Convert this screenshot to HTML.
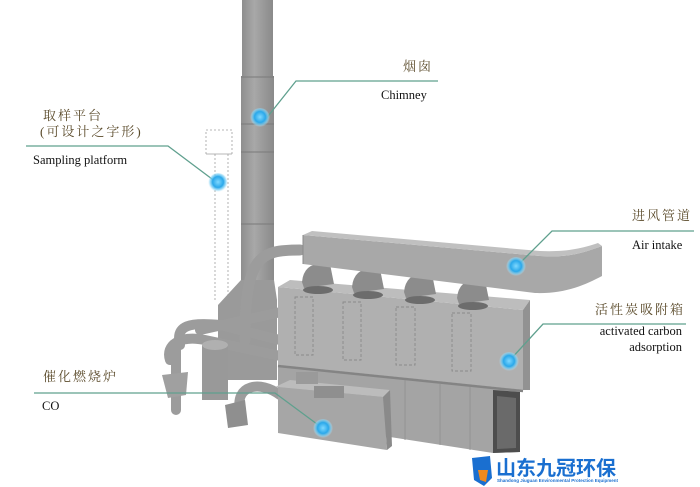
<!DOCTYPE html>
<html><head><meta charset="utf-8"><style>
html,body{margin:0;padding:0;background:#fff;width:700px;height:487px;overflow:hidden}
svg{display:block}
.cn{font-family:"Liberation Serif","Noto Serif CJK SC",serif;font-size:13px;fill:#5a4a2a;letter-spacing:2px}
.en{font-family:"Liberation Serif",serif;font-size:12.5px;fill:#111}
.ln{stroke:#5fa08e;stroke-width:1.3;fill:none}
</style></head><body>
<svg width="700" height="487" viewBox="0 0 700 487" xmlns="http://www.w3.org/2000/svg">
<defs>
<radialGradient id="dot" cx="50%" cy="45%" r="50%">
<stop offset="0" stop-color="#7fd8ff"/><stop offset="0.55" stop-color="#2aa8ea"/><stop offset="0.8" stop-color="#7cd0f5" stop-opacity="0.7"/><stop offset="1" stop-color="#bfe9fb" stop-opacity="0"/>
</radialGradient>
<linearGradient id="chim" x1="0" x2="1"><stop offset="0" stop-color="#8e8e8e"/><stop offset="0.4" stop-color="#a8a8a8"/><stop offset="1" stop-color="#8a8a8a"/></linearGradient>
</defs>
<!-- ladder / platform -->
<g stroke="#a0a0a0" stroke-width="0.8" stroke-dasharray="2,2" fill="none">
<rect x="206" y="130" width="26" height="24"/>
<line x1="215" y1="154" x2="215" y2="300"/><line x1="228" y1="154" x2="228" y2="300"/>
<line x1="206" y1="154" x2="232" y2="154"/>
</g>
<!-- chimney -->
<rect x="242" y="0" width="31" height="80" fill="url(#chim)"/>
<rect x="241" y="76" width="33" height="220" fill="url(#chim)"/>
<g stroke="#7a7a7a" stroke-width="1"><line x1="241" y1="77" x2="274" y2="77"/><line x1="241" y1="124" x2="274" y2="124"/><line x1="241" y1="152" x2="274" y2="152"/><line x1="241" y1="224" x2="274" y2="224"/></g>
<polygon points="241,280 274,280 277,300 277,380 218,380 218,305" fill="#9a9a9a"/>
<!-- left pipes -->
<g fill="none" stroke="#9c9c9c" stroke-linecap="round">
<path d="M245,340 C245,255 260,250 300,250" stroke-width="11"/>
<path d="M200,330 L290,310" stroke-width="10"/>
<path d="M180,345 C175,325 190,322 220,325 L300,345" stroke-width="10"/>
<path d="M170,360 C165,345 180,335 205,340 L290,358 C300,360 305,365 305,380" stroke-width="10"/>
<path d="M176,350 L176,410" stroke-width="10"/>
<path d="M240,410 C235,385 260,380 280,395" stroke-width="10"/>
</g>
<rect x="202" y="345" width="26" height="55" fill="#999"/>
<ellipse cx="215" cy="345" rx="13" ry="5" fill="#b0b0b0"/>
<polygon points="162,375 188,372 186,395 168,398" fill="#a0a0a0"/>
<polygon points="225,405 245,400 248,425 228,428" fill="#8f8f8f"/>
<!-- main box -->
<polygon points="278,287 523,310 523,390 278,365" fill="#b0b0b0"/>
<polygon points="278,365 520,390 520,452 493,453 390,437 278,420" fill="#a4a4a4"/>
<polygon points="278,287 290,280 530,300 523,310" fill="#bdbdbd"/>
<polygon points="523,310 530,300 530,390 523,390" fill="#929292"/>
<polygon points="493,390 520,392 520,452 493,453" fill="#4d4d4d"/>
<polygon points="497,396 516,398 516,448 497,449" fill="#6a6a6a"/>
<line x1="278" y1="366" x2="523" y2="391" stroke="#848484" stroke-width="2.5"/>
<g fill="none" stroke="#8a8a8a" stroke-width="0.9" stroke-dasharray="3,2">
<rect x="295" y="297" width="18" height="58"/><rect x="343" y="302" width="18" height="58"/><rect x="396" y="307" width="19" height="58"/><rect x="452" y="313" width="19" height="58"/>
</g>
<g stroke="#8f8f8f" stroke-width="0.8"><line x1="405" y1="380" x2="405" y2="440"/><line x1="440" y1="384" x2="440" y2="445"/><line x1="470" y1="387" x2="470" y2="450"/></g>
<!-- elbows -->
<g fill="#8c8c8c">
<path d="M302,282 q2,-22 28,-18 l4,20 -30,4z"/><path d="M352,287 q2,-22 28,-18 l4,20 -30,4z"/><path d="M404,292 q2,-22 28,-18 l4,20 -30,4z"/><path d="M457,298 q2,-22 28,-18 l4,20 -30,4z"/>
</g>
<g fill="#6c6c6c"><ellipse cx="318" cy="290" rx="15" ry="4"/><ellipse cx="368" cy="295" rx="15" ry="4"/><ellipse cx="420" cy="300" rx="15" ry="4"/><ellipse cx="473" cy="306" rx="15" ry="4"/></g>
<!-- air intake duct -->
<path d="M303,235 L540,256 C570,258 585,252 602,246 L602,276 C585,285 565,294 535,293 L303,264 Z" fill="#a8a8a8"/>
<path d="M303,235 L540,256 C570,258 585,252 602,246 L598,243 C580,249 565,252 540,251 L312,231 Z" fill="#c0c0c0"/>
<line x1="303" y1="235" x2="303" y2="264" stroke="#8a8a8a"/>
<!-- CO box -->
<polygon points="275,387 290,380 390,390 383,397" fill="#bcbcbc"/>
<polygon points="278,387 383,397 387,450 278,433" fill="#a6a6a6"/>
<polygon points="383,397 390,390 392,446 387,450" fill="#8a8a8a"/>
<rect x="314" y="386" width="30" height="12" fill="#8f8f8f"/>
<rect x="296" y="372" width="22" height="12" fill="#9a9a9a"/>
<!-- callout lines -->
<polyline class="ln" points="438,81 296,81 265,120"/>
<polyline class="ln" points="26,146 168,146 216,182"/>
<polyline class="ln" points="694,231 552,231 518,265"/>
<polyline class="ln" points="686,324 543,324 510,360"/>
<polyline class="ln" points="34,393 275,393 321,427"/>
<!-- dots -->
<circle cx="260" cy="118" r="10" fill="url(#dot)"/>
<circle cx="218" cy="183" r="10" fill="url(#dot)"/>
<circle cx="516" cy="267" r="10" fill="url(#dot)"/>
<circle cx="509" cy="362" r="10" fill="url(#dot)"/>
<circle cx="323" cy="429" r="10" fill="url(#dot)"/>
<!-- labels -->
<text class="cn" x="403" y="71">烟囱</text>
<text class="en" x="381" y="99">Chimney</text>
<text class="cn" x="43" y="120">取样平台</text>
<text class="cn" x="40" y="136">(可设计之字形)</text>
<text class="en" x="33" y="164">Sampling platform</text>
<text class="cn" x="632" y="220">进风管道</text>
<text class="en" x="632" y="249">Air intake</text>
<text class="cn" x="595" y="314">活性炭吸附箱</text>
<text class="en" x="682" y="335" text-anchor="end">activated carbon</text>
<text class="en" x="682" y="351" text-anchor="end">adsorption</text>
<text class="cn" x="43" y="381">催化燃烧炉</text>
<text class="en" x="42" y="410">CO</text>
<!-- logo -->
<path d="M472,458 L490,456 L492,478 L484,486 L474,480 Z" fill="#1a6fd0"/>
<path d="M478,470 L488,470 L486,482 L480,480 Z" fill="#f08a1e"/>
<text x="496" y="475" font-family="'Liberation Sans','Noto Sans CJK SC',sans-serif" font-weight="bold" font-size="20" fill="#1a6fd0">山东九冠环保</text>
<text x="497" y="482" font-family="'Liberation Sans',sans-serif" font-size="4.5" font-weight="bold" fill="#1a6fd0">Shandong Jiuguan Environmental Protection Equipment</text>
</svg>
</body></html>
